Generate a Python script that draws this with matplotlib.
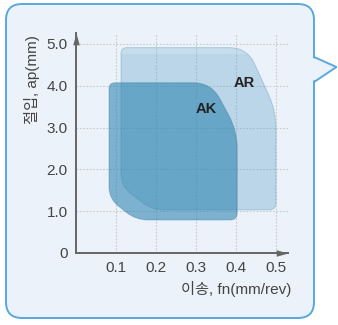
import matplotlib
matplotlib.use('Agg')
import matplotlib.pyplot as plt
import numpy as np
from matplotlib.patches import FancyBboxPatch, Polygon, PathPatch, Rectangle
from matplotlib.path import Path
from matplotlib.lines import Line2D
from matplotlib.transforms import IdentityTransform

# ---- data ----
feed_ticks = [0.1, 0.2, 0.3, 0.4, 0.5]
feed_labels = ['0.1', '0.2', '0.3', '0.4', '0.5']
depth_ticks = [0, 1, 2, 3, 4, 5]
depth_labels = ['0', '1.0', '2.0', '3.0', '4.0', '5.0']

ar_feed = [0.1125, 0.428, 0.500, 0.500, 0.190, 0.1125]
ar_depth = [4.91, 4.91, 3.40, 1.03, 1.03, 1.60]
ak_feed = [0.0825, 0.338, 0.403, 0.403, 0.150, 0.0825]
ak_depth = [4.07, 4.07, 2.92, 0.79, 0.79, 1.30]

x_label = '이송, fn(mm/rev)'
y_label = '절입, ap(mm)'

plt.rcParams['font.family'] = ['Liberation Sans', 'Noto Sans CJK KR']

W, H = 338, 325
fig = plt.figure(figsize=(W / 100, H / 100), dpi=100)
fig.patch.set_facecolor('white')

# speech-bubble frame
bg = '#ebf2fa'
edge = '#5aa8de'
box = FancyBboxPatch((6, H - 318), 308, 314,
                     boxstyle='round,pad=0,rounding_size=16',
                     transform=IdentityTransform(), fc=bg, ec=edge, lw=1.4, zorder=0)
fig.add_artist(box)
tail = Polygon([(311, H - 57), (336.5, H - 67), (311, H - 82)], closed=True,
               transform=IdentityTransform(), fc=bg, ec='none', zorder=1)
fig.add_artist(tail)
fig.add_artist(Line2D([314, 336.5, 314], [H - 57, H - 67, H - 82],
                      transform=IdentityTransform(), color=edge, lw=1.4, zorder=2,
                      solid_joinstyle='miter'))

ax = fig.add_axes([76 / W, 72 / H, 212 / W, 220 / H])
ax.set_facecolor('none')
ax.set_xlim(0, 0.53)
ax.set_ylim(0, 5.26)
for s in ['top', 'right']:
    ax.spines[s].set_visible(False)
for s in ['left', 'bottom']:
    ax.spines[s].set_color('#666666')
    ax.spines[s].set_linewidth(1.4)
ax.set_xticks(feed_ticks)
ax.set_xticklabels(feed_labels)
ax.set_yticks(depth_ticks)
ax.set_yticklabels(depth_labels)
ax.tick_params(length=0, labelsize=11, labelcolor='#444444')
ax.tick_params(axis='x', pad=6)
ax.tick_params(axis='y', pad=6)
ax.grid(True, color='#c9c9c9', linestyle=(0, (1.5, 1.5)), linewidth=0.8, zorder=0)
ax.set_axisbelow(True)

arrow_x = [(-2, -0.55), (0, 0), (-2, 0.55), (-2, -0.55)]
arrow_y = [(y, x) for x, y in arrow_x]
ax.plot([1.0], [0], marker=arrow_x, ms=17, color='#666666', mew=0,
        transform=ax.transAxes, clip_on=False, zorder=5)
ax.plot([0], [1.0], marker=arrow_y, ms=17, color='#666666', mew=0,
        transform=ax.transAxes, clip_on=False, zorder=5)


def rounded_path(xs, ys, radii):
    pts = ax.transData.transform(np.column_stack([xs, ys]))
    n = len(pts)
    verts, codes = [], []
    for i in range(n):
        v = pts[i]
        p = pts[i - 1]
        q = pts[(i + 1) % n]
        d1 = p - v
        d2 = q - v
        l1 = np.hypot(*d1)
        l2 = np.hypot(*d2)
        r = min(radii[i], l1 / 2, l2 / 2)
        a = v + d1 / l1 * r
        b = v + d2 / l2 * r
        verts.append(a)
        codes.append(Path.MOVETO if i == 0 else Path.LINETO)
        verts += [v, b]
        codes += [Path.CURVE3, Path.CURVE3]
    verts.append(verts[0])
    codes.append(Path.CLOSEPOLY)
    return Path(ax.transData.inverted().transform(np.array(verts)), codes)


radii = [6, 18, 18, 7, 12, 12]
ar_path = rounded_path(ar_feed, ar_depth, radii)
ak_path = rounded_path(ak_feed, ak_depth, radii)

ar_patch = PathPatch(ar_path, fc='#5fa0c8', alpha=0.34, ec='none', zorder=2)
ax.add_patch(ar_patch)
# soft highlight band along the top of AR
hl = Rectangle((0, max(ar_depth) - 0.15), 0.53, 0.15, fc='white', alpha=0.18,
               ec='none', zorder=2)
ax.add_patch(hl)
hl.set_clip_path(ar_patch)
ax.add_patch(PathPatch(ar_path, fc='none', ec='#3f7fa8', alpha=0.25, lw=0.8, zorder=2))
ax.add_patch(PathPatch(ak_path, fc='#2d84b0', alpha=0.58, ec='none', zorder=3))
ax.add_patch(PathPatch(ak_path, fc='none', ec='#2a6a90', alpha=0.3, lw=0.8, zorder=3))

ax.text(0.42, 4.07, 'AR', ha='center', va='center', fontsize=10.5,
        fontweight='bold', color='#222222', zorder=6)
ax.text(0.325, 3.44, 'AK', ha='center', va='center', fontsize=10.5,
        fontweight='bold', color='#222222', zorder=6)

fig.text(32 / W, 1 - 80 / H, y_label, rotation=90, ha='center', va='center',
         fontsize=11, color='#444444')
fig.text(291 / W, 1 - 289 / H, x_label, ha='right', va='center',
         fontsize=11, color='#444444')

fig.savefig('out.png', dpi=100, facecolor='white')
